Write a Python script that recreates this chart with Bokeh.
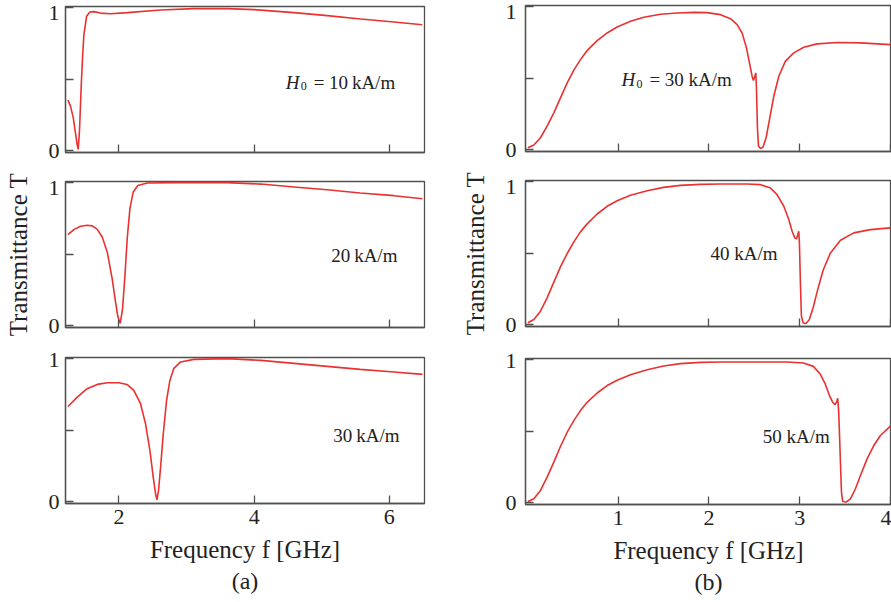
from bokeh.plotting import figure
from bokeh.layouts import row, column
from bokeh.models import Range1d, FixedTicker, Label, Title, LinearAxis
from bokeh.embed import file_html
from bokeh.resources import INLINE

# ---- (a) transmittance vs frequency, H0 = 10, 20, 30 kA/m ----
f_a10 = [1.246, 1.285, 1.325, 1.359, 1.384, 1.398, 1.418, 1.443, 1.463, 1.482,
         1.522, 1.571, 1.630, 1.729, 1.877, 2.123, 2.616, 3.109, 3.603, 3.997,
         4.589, 5.082, 5.575, 6.068, 6.487]
t_a10 = [0.354, 0.310, 0.230, 0.120, 0.040, 0.010, 0.150, 0.460, 0.660, 0.810,
         0.940, 0.970, 0.972, 0.962, 0.957, 0.965, 0.984, 0.993, 0.993, 0.986,
         0.965, 0.944, 0.921, 0.900, 0.880]

f_a20 = [1.246, 1.334, 1.433, 1.532, 1.606, 1.680, 1.753, 1.827, 1.900, 1.950,
         1.985, 2.020, 2.054, 2.089, 2.123, 2.163, 2.212, 2.280, 2.420, 2.860,
         3.600, 4.100, 4.590, 5.080, 5.570, 6.070, 6.490]
t_a20 = [0.637, 0.672, 0.695, 0.702, 0.698, 0.674, 0.620, 0.516, 0.330, 0.167,
         0.063, 0.016, 0.120, 0.350, 0.610, 0.820, 0.935, 0.980, 0.998, 1.000,
         1.000, 0.990, 0.970, 0.950, 0.928, 0.909, 0.888]

f_a30 = [1.246, 1.384, 1.530, 1.680, 1.827, 2.000, 2.120, 2.220, 2.320, 2.394,
         2.459, 2.508, 2.543, 2.562, 2.586, 2.616, 2.656, 2.705, 2.754, 2.810,
         2.910, 3.110, 3.600, 4.100, 4.590, 5.080, 5.570, 6.070, 6.490]
t_a30 = [0.666, 0.731, 0.790, 0.820, 0.832, 0.832, 0.820, 0.778, 0.685, 0.544,
         0.357, 0.170, 0.054, 0.014, 0.077, 0.240, 0.474, 0.708, 0.848, 0.930,
         0.977, 0.995, 1.000, 0.988, 0.967, 0.946, 0.925, 0.907, 0.890]

# ---- (b) transmittance vs frequency, H0 = 30, 40, 50 kA/m ----
f_b30 = [0.006, 0.072, 0.145, 0.218, 0.292, 0.365, 0.439, 0.512, 0.585, 0.659,
         0.769, 0.879, 0.989, 1.136, 1.283, 1.466, 1.650, 1.833, 1.980, 2.127,
         2.237, 2.310, 2.365, 2.413, 2.450, 2.475, 2.490, 2.505, 2.516, 2.523,
         2.534, 2.545, 2.567, 2.596, 2.629, 2.670, 2.714, 2.769, 2.842, 2.934,
         3.044, 3.190, 3.410, 3.668, 3.998]
t_b30 = [0.014, 0.033, 0.084, 0.165, 0.258, 0.363, 0.467, 0.556, 0.630, 0.693,
         0.763, 0.816, 0.858, 0.898, 0.926, 0.947, 0.956, 0.960, 0.958, 0.944,
         0.916, 0.874, 0.816, 0.712, 0.595, 0.514, 0.484, 0.514, 0.537, 0.433,
         0.153, 0.026, 0.009, 0.019, 0.084, 0.223, 0.374, 0.514, 0.619, 0.677,
         0.716, 0.740, 0.749, 0.747, 0.735]

f_b40 = [0.006, 0.072, 0.145, 0.218, 0.292, 0.365, 0.439, 0.512, 0.585, 0.659,
         0.769, 0.879, 0.989, 1.136, 1.320, 1.500, 1.686, 1.906, 2.127, 2.420,
         2.567, 2.677, 2.750, 2.824, 2.879, 2.916, 2.945, 2.963, 2.978, 2.989,
         2.996, 3.007, 3.018, 3.037, 3.066, 3.103, 3.147, 3.198, 3.257, 3.338,
         3.448, 3.594, 3.778, 3.998]
t_b40 = [0.014, 0.037, 0.095, 0.188, 0.298, 0.405, 0.498, 0.579, 0.649, 0.705,
         0.774, 0.828, 0.867, 0.905, 0.937, 0.960, 0.974, 0.981, 0.984, 0.984,
         0.979, 0.956, 0.909, 0.828, 0.735, 0.653, 0.607, 0.600, 0.630, 0.653,
         0.572, 0.293, 0.060, 0.012, 0.009, 0.033, 0.119, 0.247, 0.381, 0.502,
         0.591, 0.642, 0.665, 0.677]

f_b50 = [0.006, 0.072, 0.145, 0.218, 0.292, 0.365, 0.439, 0.512, 0.585, 0.659,
         0.769, 0.879, 0.989, 1.136, 1.320, 1.500, 1.686, 1.906, 2.127, 2.490,
         2.860, 3.040, 3.150, 3.224, 3.280, 3.327, 3.363, 3.389, 3.407, 3.418,
         3.429, 3.444, 3.459, 3.473, 3.510, 3.558, 3.613, 3.668, 3.741, 3.815,
         3.888, 3.998]
t_b50 = [0.009, 0.028, 0.086, 0.179, 0.284, 0.393, 0.493, 0.574, 0.644, 0.702,
         0.767, 0.819, 0.856, 0.895, 0.930, 0.956, 0.972, 0.981, 0.984, 0.984,
         0.984, 0.977, 0.953, 0.900, 0.830, 0.749, 0.702, 0.686, 0.707, 0.730,
         0.633, 0.353, 0.074, 0.009, 0.005, 0.028, 0.098, 0.191, 0.307, 0.400,
         0.470, 0.535]

ticks_a = [2, 4, 6]
ticks_b = [1, 2, 3, 4]
ticks_t = [0, 0.5, 1]

SERIF = "Liberation Serif"
INK = "#222222"
FRAME = "#505050"
RED = "#ea3131"
Y0, Y1 = -0.012, 1.008


def style_axis(ax):
    ax.axis_line_color = FRAME
    ax.axis_line_width = 1.3
    ax.major_tick_line_color = FRAME
    ax.major_tick_line_width = 1.3
    ax.major_tick_in = 8
    ax.major_tick_out = 0
    ax.minor_tick_line_color = None
    ax.major_label_text_font = SERIF
    ax.major_label_text_color = INK
    ax.axis_label_text_font = SERIF
    ax.axis_label_text_font_style = "normal"
    ax.axis_label_text_color = INK


def panel(xr, fw, xticks, fx, ty, mb, label_gap, one_at,
          show_x=False, ylabel=None, caption=None):
    top, bottom, left, right = mb
    p = figure(frame_width=fw, frame_height=146,
               x_range=Range1d(*xr), y_range=Range1d(Y0, Y1),
               min_border_top=top, min_border_bottom=bottom,
               min_border_left=left, min_border_right=right,
               output_backend="svg", toolbar_location=None,
               background_fill_color="white", border_fill_color="white")
    p.grid.visible = False
    p.outline_line_color = FRAME
    p.outline_line_width = 1.3

    xa = p.xaxis[0]
    style_axis(xa)
    xa.ticker = FixedTicker(ticks=xticks)
    if show_x:
        xa.major_label_text_font_size = "22px"
        xa.major_label_standoff = 6
        xa.major_label_overrides = {t: str(t) for t in xticks}
        xa.axis_label = "Frequency f [GHz]"
        xa.axis_label_text_font_size = "25px"
        xa.axis_label_standoff = 9
    else:
        xa.major_label_overrides = {t: "" for t in xticks}
        xa.major_label_standoff = 0

    # inner axis: tick marks only
    ya = p.yaxis[0]
    style_axis(ya)
    ya.ticker = FixedTicker(ticks=ticks_t)
    ya.major_label_overrides = {t: "" for t in ticks_t}
    ya.major_label_standoff = 0

    # outer axis: the "0" / "1" labels and the axis title
    lab = LinearAxis(ticker=FixedTicker(ticks=[0, one_at]),
                     major_label_overrides={0: "0", one_at: "1"})
    style_axis(lab)
    lab.axis_line_color = None
    lab.major_tick_line_color = None
    lab.major_label_text_font_size = "22px"
    lab.major_label_standoff = label_gap
    if ylabel:
        lab.axis_label = ylabel
        lab.axis_label_text_font_size = "25px"
        lab.axis_label_standoff = 14
    p.add_layout(lab, "left")

    p.line(fx, ty, line_color=RED, line_width=1.6)

    if caption:
        p.add_layout(Title(text=caption, align="center", text_font=SERIF,
                           text_font_size="24px", text_font_style="normal",
                           text_color=INK, standoff=0), "below")
    return p


def tag(p, x, y, s, size="19px", dx=0, dy=0, style="normal"):
    p.add_layout(Label(x=x, y=y, x_offset=dx, y_offset=dy, text=s,
                       text_font=SERIF, text_font_size=size,
                       text_font_style=style, text_color=INK,
                       text_baseline="alphabetic", text_align="left"))


def h0_tag(p, x, y, rest):
    tag(p, x, y, "H", style="italic")
    tag(p, x, y, "0", size="12px", dx=15, dy=-4)
    tag(p, x, y, rest, dx=28)


XA = (1.21, 6.52)
XB = (-0.02, 4.01)

a1 = panel(XA, 359, ticks_a, f_a10, t_a10, (6, 18, 65, 16), 6, 0.965)
a2 = panel(XA, 359, ticks_a, f_a20, t_a20, (11, 18, 65, 16), 6, 0.965,
           ylabel="Transmittance T")
a3 = panel(XA, 359, ticks_a, f_a30, t_a30, (12, 99, 65, 16), 6, 0.99,
           show_x=True, caption="(a)")

b1 = panel(XB, 366, ticks_b, f_b30, t_b30, (5, 19, 85, 0), 9, 0.965)
b2 = panel(XB, 366, ticks_b, f_b40, t_b40, (10, 19, 85, 0), 9, 0.965,
           ylabel="Transmittance T")
b3 = panel(XB, 366, ticks_b, f_b50, t_b50, (13, 98, 85, 0), 9, 0.99,
           show_x=True, caption="(b)")

# field strength tags
h0_tag(a1, 4.466, 0.479, "= 10\u2009kA/m")
tag(a2, 5.142, 0.491, "20\u2009kA/m")
tag(a3, 5.172, 0.463, "30\u2009kA/m")
h0_tag(b1, 1.036, 0.489, "= 30 kA/m")
tag(b2, 2.016, 0.496, "40 kA/m")
tag(b3, 2.592, 0.463, "50 kA/m")

layout = row(column(a1, a2, a3, spacing=0), column(b1, b2, b3, spacing=0), spacing=0)

open("out.html", "w").write(file_html(layout, INLINE))
